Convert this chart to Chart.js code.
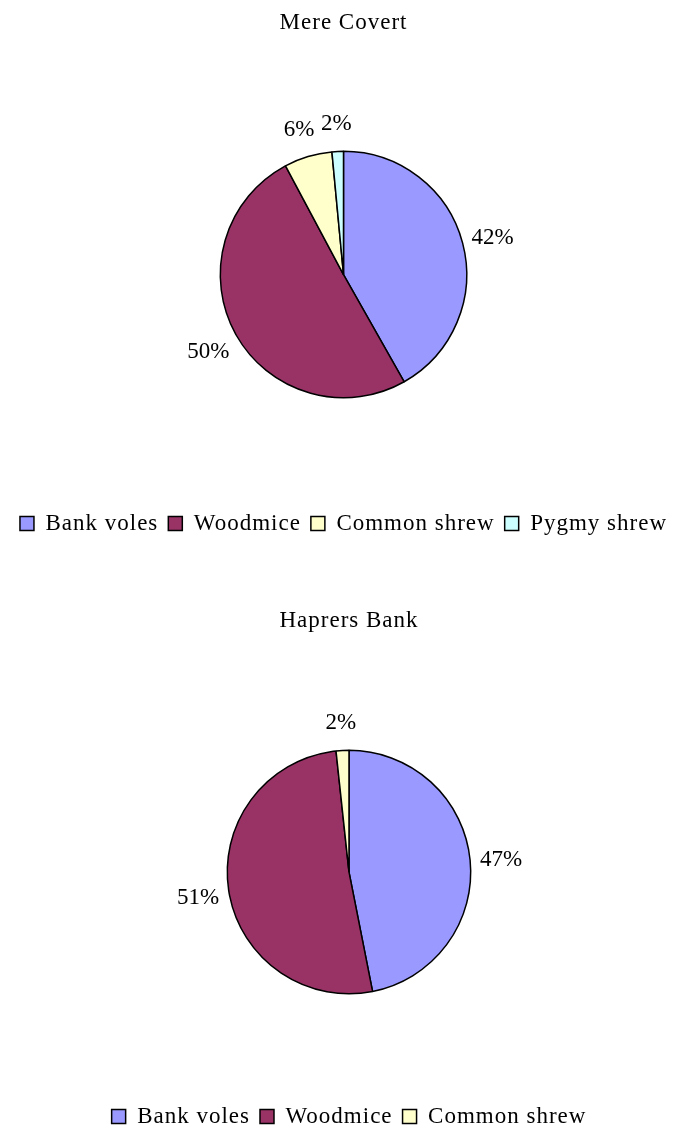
<!DOCTYPE html>
<html>
<head>
<meta charset="utf-8">
<script src="https://cdn.jsdelivr.net/npm/chart.js@4/dist/chart.umd.min.js"></script>
<style>
  html, body { margin: 0; background: #fff; overflow: hidden; }
  canvas { display: block; }
</style>
</head>
<body>
<canvas id="mereChart" width="681" height="566"></canvas>
<canvas id="haprersChart" width="681" height="574"></canvas>
<script>
// survey data (percent of catch)
var mereLabels = ['Bank voles', 'Woodmice', 'Common shrew', 'Pygmy shrew'];
var mereValues = [41.8, 50.4, 6.3, 1.5];
var mereColors = ['#9999FF', '#993366', '#FFFFCC', '#CCFFFF'];

var haprersLabels = ['Bank voles', 'Woodmice', 'Common shrew'];
var haprersValues = [46.9, 51.4, 1.7];
var haprersColors = ['#9999FF', '#993366', '#FFFFCC'];

Chart.defaults.font.family = '"Liberation Serif", "Times New Roman", serif';
Chart.defaults.color = '#000';

// the original text is set a little loose, so widen title and legend
var looseText = {
  id: 'looseText',
  beforeLayout: function(chart) { chart.ctx.letterSpacing = '1px'; },
  beforeDraw: function(chart) { chart.ctx.letterSpacing = '1px'; }
};

// percent labels sitting just outside each slice
var outsideLabels = {
  id: 'outsideLabels',
  afterDatasetsDraw: function(chart) {
    var ctx = chart.ctx;
    var data = chart.data.datasets[0].data;
    var total = data.reduce(function(a, b) { return a + b; }, 0);
    ctx.save();
    ctx.letterSpacing = '0px';
    ctx.font = '23px "Liberation Serif", serif';
    ctx.fillStyle = '#000';
    ctx.textAlign = 'center';
    ctx.textBaseline = 'middle';
    chart.getDatasetMeta(0).data.forEach(function(arc, i) {
      var p = arc.getProps(['x', 'y', 'startAngle', 'endAngle', 'outerRadius'], true);
      var mid = (p.startAngle + p.endAngle) / 2;
      var r = p.outerRadius + 31;
      ctx.fillText(Math.round(data[i] / total * 100) + '%', p.x + Math.cos(mid) * r, p.y + Math.sin(mid) * r + 3);
    });
    ctx.restore();
  }
};

function makePie(id, title, labels, values, colors, lay) {
  var ctx = document.getElementById(id).getContext('2d');
  return new Chart(ctx, {
    type: 'pie',
    data: {
      labels: labels,
      datasets: [{
        data: values,
        backgroundColor: colors,
        borderColor: '#000',
        borderWidth: 1.5
      }]
    },
    options: {
      responsive: false,
      animation: false,
      layout: { padding: { left: lay.left, right: 0, top: 0, bottom: lay.bottom } },
      plugins: {
        title: {
          display: true,
          text: title,
          font: { size: 23, weight: 'normal' },
          padding: { top: lay.titleTop, bottom: lay.titleBottom }
        },
        legend: {
          position: 'bottom',
          title: { display: true, text: '', font: { size: 10 }, padding: { top: lay.gap, bottom: 0 } },
          labels: { boxWidth: 14, boxHeight: 14, padding: 10, font: { size: 23 } }
        },
        tooltip: { enabled: false }
      }
    },
    plugins: [looseText, outsideLabels]
  });
}

document.addEventListener('DOMContentLoaded', function() {
  makePie('mereChart', 'Mere Covert', mereLabels, mereValues, mereColors,
    { left: 6, bottom: 21, titleTop: 9, titleBottom: 114, gap: 91.5 });
  makePie('haprersChart', 'Haprers Bank', haprersLabels, haprersValues, haprersColors,
    { left: 17, bottom: 2, titleTop: 41, titleBottom: 115, gap: 88.5 });
});
</script>
</body>
</html>
